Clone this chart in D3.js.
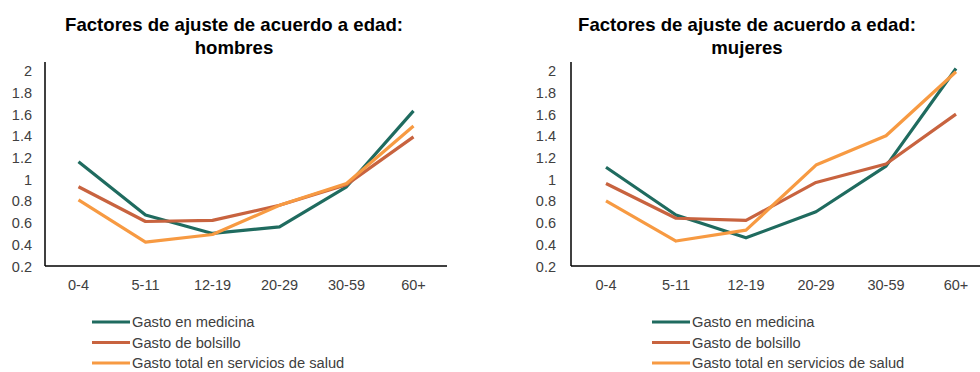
<!DOCTYPE html>
<html><head><meta charset="utf-8">
<script src="https://cdn.jsdelivr.net/npm/d3@7"></script>
<style>body{margin:0;background:#fff;} svg{display:block;}</style>
</head><body>
<svg id="c" width="980" height="372"></svg>
<script>
const categories = ["0-4","5-11","12-19","20-29","30-59","60+"];
const seriesNames = ["Gasto en medicina","Gasto de bolsillo","Gasto total en servicios de salud"];
const seriesColors = ["#1f6b5f","#c8633f","#f79a42"];
const yTicks = [0.2,0.4,0.6,0.8,1,1.2,1.4,1.6,1.8,2];
const hombresMedicina = [1.16,0.67,0.50,0.56,0.93,1.63];
const hombresBolsillo = [0.93,0.61,0.62,0.76,0.95,1.39];
const hombresTotal    = [0.81,0.42,0.49,0.76,0.96,1.49];
const mujeresMedicina = [1.11,0.67,0.46,0.70,1.12,2.02];
const mujeresBolsillo = [0.96,0.64,0.62,0.97,1.14,1.60];
const mujeresTotal    = [0.80,0.43,0.53,1.13,1.40,1.99];

const svg = d3.select("#c");
const font = "'Liberation Sans', Arial, sans-serif";

const panels = [
  {title:["Factores de ajuste de acuerdo a edad:","hombres"], cx:234, x0:45, x1:447, tickX:32, legX:92,
   data:[hombresMedicina,hombresBolsillo,hombresTotal]},
  {title:["Factores de ajuste de acuerdo a edad:","mujeres"], cx:747, x0:571, x1:991, tickX:556, legX:652,
   data:[mujeresMedicina,mujeresBolsillo,mujeresTotal]}
];

panels.forEach(p => {
  const g = svg.append("g");
  const y = d3.scaleLinear().domain([0.2, 2.08]).range([266, 62]);
  const x = d3.scaleBand().domain(categories).range([p.x0, p.x1]);
  // title
  p.title.forEach((t,i) => g.append("text").attr("x",p.cx).attr("y",31+i*23)
    .attr("text-anchor","middle").attr("font-family",font).attr("font-weight","bold")
    .attr("font-size",18.6).attr("fill","#000").text(t));
  // y axis
  const ya = d3.axisLeft(y).tickValues(yTicks).tickSize(0).tickPadding(0).tickFormat(d3.format("~g"));
  const yg = g.append("g").attr("transform",`translate(${p.tickX},0)`).call(ya);
  yg.select(".domain").remove();
  yg.selectAll("text").attr("font-family",font).attr("font-size",14.5).attr("fill","#404040").attr("dy","0.35em");
  g.append("line").attr("x1",p.x0).attr("x2",p.x0).attr("y1",y(2.08)).attr("y2",y(0.2)).attr("stroke","#000").attr("stroke-width",1.5);
  // x axis
  const xa = d3.axisBottom(x).tickSize(0).tickPadding(14);
  const xg = g.append("g").attr("transform",`translate(0,${y(0.2)})`).call(xa);
  xg.select(".domain").remove();
  xg.selectAll("text").attr("font-family",font).attr("font-size",14.5).attr("fill","#404040");
  g.append("line").attr("x1",p.x0).attr("x2",p.x1).attr("y1",y(0.2)).attr("y2",y(0.2)).attr("stroke","#000").attr("stroke-width",1.5);
  // lines
  const line = d3.line().x((d,i)=>x(categories[i])+x.bandwidth()/2).y(d=>y(d));
  p.data.forEach((s,k) => g.append("path").datum(s).attr("d",line).attr("fill","none")
    .attr("stroke",seriesColors[k]).attr("stroke-width",3.2).attr("stroke-linejoin","round"));
  // legend
  seriesNames.forEach((n,k) => {
    const ly = 322 + k*20.5;
    g.append("line").attr("x1",p.legX).attr("x2",p.legX+38).attr("y1",ly).attr("y2",ly)
      .attr("stroke",seriesColors[k]).attr("stroke-width",3.2);
    g.append("text").attr("x",p.legX+40).attr("y",ly).attr("dy","0.35em").attr("font-family",font)
      .attr("font-size",14.7).attr("fill","#404040").text(n);
  });
});
</script>
</body></html>
